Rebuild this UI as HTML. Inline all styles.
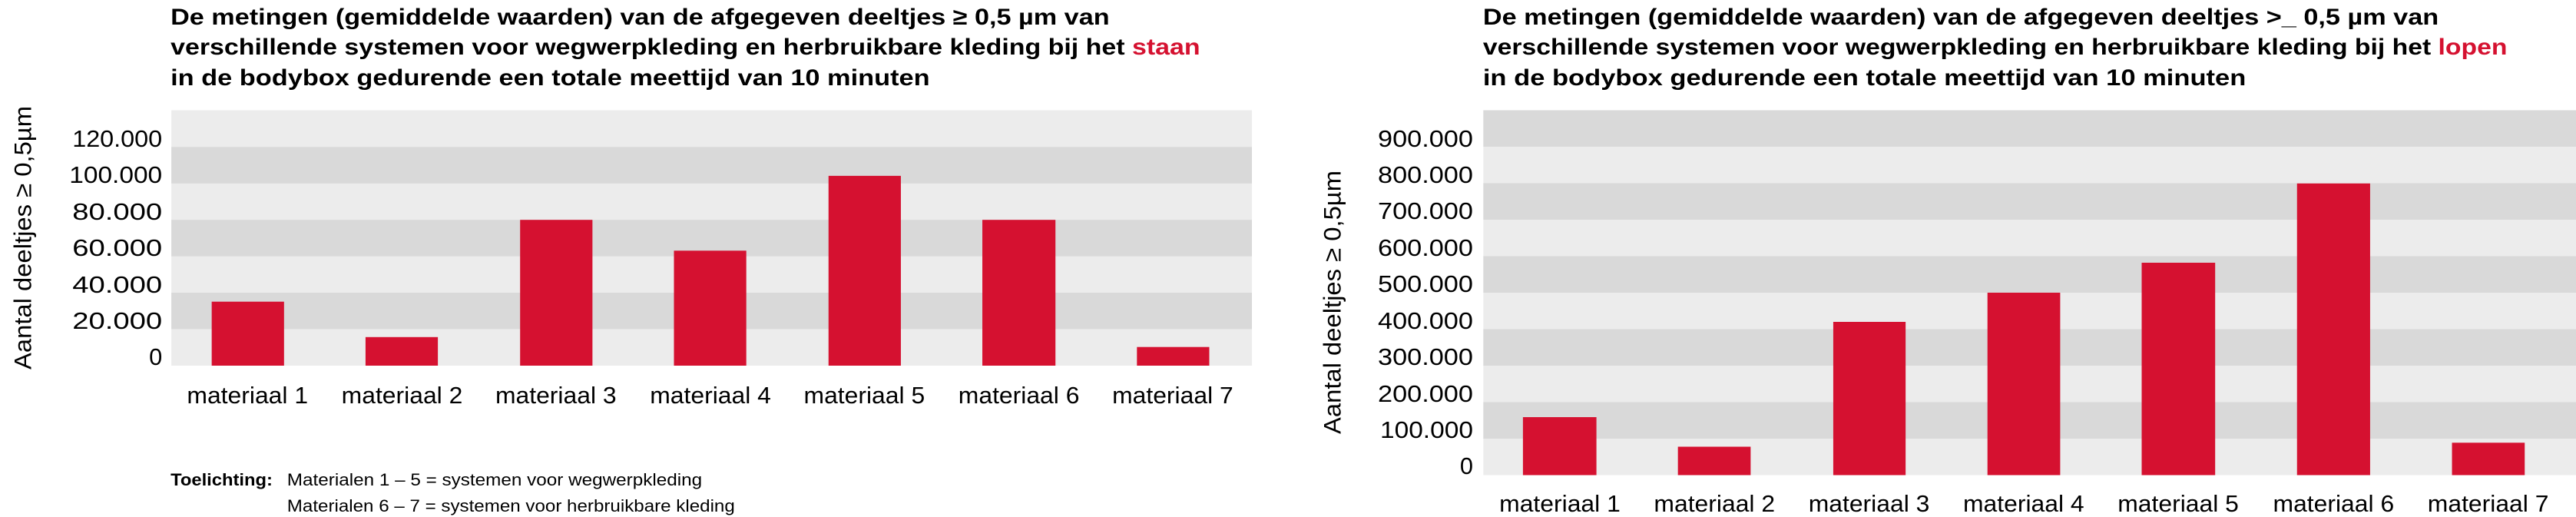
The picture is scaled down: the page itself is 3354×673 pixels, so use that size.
<!DOCTYPE html>
<html><head><meta charset="utf-8"><style>
html,body{margin:0;padding:0;background:#fff;}
svg{display:block;}
text{font-family:"Liberation Sans",sans-serif;fill:#000;}
.t{font-weight:bold;font-size:30px;}
.y{font-size:31px;}
.x{font-size:31px;}
.r{fill:#d51130;}
</style></head><body>
<svg width="3354" height="673" viewBox="0 0 3354 673" xmlns="http://www.w3.org/2000/svg">
<g transform="scale(0.9915,1)">
<!-- LEFT CHART -->
<text class="t" x="224" y="32" textLength="1233" lengthAdjust="spacingAndGlyphs">De metingen (gemiddelde waarden) van de afgegeven deeltjes ≥ 0,5 µm van</text>
<text class="t" x="224" y="71" textLength="1352" lengthAdjust="spacingAndGlyphs">verschillende systemen voor wegwerpkleding en herbruikbare kleding bij het <tspan class="r">staan</tspan></text>
<text class="t" x="224" y="111" textLength="997" lengthAdjust="spacingAndGlyphs">in de bodybox gedurende een totale meettijd van 10 minuten</text>
<rect x="225" y="143.5" width="1419" height="332.5" fill="#ececec"/>
<rect x="225" y="191.4" width="1419" height="47.4" fill="#d9d9d9"/>
<rect x="225" y="286.2" width="1419" height="47.4" fill="#d9d9d9"/>
<rect x="225" y="381" width="1419" height="47.4" fill="#d9d9d9"/>
<g class="r">
<rect x="278" y="392.7" width="95" height="83.3"/>
<rect x="480" y="438.8" width="95" height="37.2"/>
<rect x="683" y="286.2" width="95" height="189.8"/>
<rect x="885" y="326.3" width="95" height="149.7"/>
<rect x="1088" y="228.9" width="95" height="247.1"/>
<rect x="1290" y="286.2" width="96" height="189.8"/>
<rect x="1493" y="451.7" width="95" height="24.3"/>
</g>
<g class="y" text-anchor="end">
<text x="213" y="475">0</text>
<text x="213" y="428" textLength="118" lengthAdjust="spacingAndGlyphs">20.000</text>
<text x="213" y="381" textLength="118" lengthAdjust="spacingAndGlyphs">40.000</text>
<text x="213" y="333" textLength="118" lengthAdjust="spacingAndGlyphs">60.000</text>
<text x="213" y="286" textLength="118" lengthAdjust="spacingAndGlyphs">80.000</text>
<text x="213" y="238" textLength="122" lengthAdjust="spacingAndGlyphs">100.000</text>
<text x="213" y="191" textLength="118" lengthAdjust="spacingAndGlyphs">120.000</text>
</g>
<g class="x" text-anchor="middle">
<text x="325" y="525" textLength="159" lengthAdjust="spacingAndGlyphs">materiaal 1</text>
<text x="528" y="525" textLength="159" lengthAdjust="spacingAndGlyphs">materiaal 2</text>
<text x="730" y="525" textLength="159" lengthAdjust="spacingAndGlyphs">materiaal 3</text>
<text x="933" y="525" textLength="159" lengthAdjust="spacingAndGlyphs">materiaal 4</text>
<text x="1135" y="525" textLength="159" lengthAdjust="spacingAndGlyphs">materiaal 5</text>
<text x="1338" y="525" textLength="159" lengthAdjust="spacingAndGlyphs">materiaal 6</text>
<text x="1540" y="525" textLength="159" lengthAdjust="spacingAndGlyphs">materiaal 7</text>
</g>
<text transform="translate(41,481) rotate(-90)" font-size="32" textLength="343" lengthAdjust="spacingAndGlyphs">Aantal deeltjes ≥ 0,5µm</text>
<text x="224" y="632" font-size="22" font-weight="bold" textLength="134" lengthAdjust="spacingAndGlyphs">Toelichting:</text>
<text x="377" y="632" font-size="22" textLength="545" lengthAdjust="spacingAndGlyphs">Materialen 1 – 5 = systemen voor wegwerpkleding</text>
<text x="377" y="666" font-size="22" textLength="588" lengthAdjust="spacingAndGlyphs">Materialen 6 – 7 = systemen voor herbruikbare kleding</text>
</g>

<g transform="translate(1680,0) scale(0.9915,1) translate(-1680,0)">
<!-- RIGHT CHART -->
<text class="t" x="1933" y="32" textLength="1255" lengthAdjust="spacingAndGlyphs">De metingen (gemiddelde waarden) van de afgegeven deeltjes &gt;_ 0,5 µm van</text>
<text class="t" x="1933" y="71" textLength="1345" lengthAdjust="spacingAndGlyphs">verschillende systemen voor wegwerpkleding en herbruikbare kleding bij het <tspan class="r">lopen</tspan></text>
<text class="t" x="1933" y="111" textLength="1002" lengthAdjust="spacingAndGlyphs">in de bodybox gedurende een totale meettijd van 10 minuten</text>
<rect x="1933.5" y="143.5" width="1440" height="475" fill="#ececec"/>
<rect x="1933.5" y="143.5" width="1440" height="47.5" fill="#d9d9d9"/>
<rect x="1933.5" y="238.5" width="1440" height="47.5" fill="#d9d9d9"/>
<rect x="1933.5" y="333.5" width="1440" height="47.5" fill="#d9d9d9"/>
<rect x="1933.5" y="428.5" width="1440" height="47.5" fill="#d9d9d9"/>
<rect x="1933.5" y="523.5" width="1440" height="47.5" fill="#d9d9d9"/>
<g class="r">
<rect x="1985.5" y="543" width="96.5" height="75.5"/>
<rect x="2189" y="581.5" width="95.5" height="37"/>
<rect x="2393" y="419" width="95" height="199.5"/>
<rect x="2595.5" y="381" width="95.5" height="237.5"/>
<rect x="2798" y="342" width="96.5" height="276.5"/>
<rect x="3002" y="238.8" width="96" height="379.7"/>
<rect x="3205.5" y="576.3" width="95.5" height="42.2"/>
</g>
<g class="y" text-anchor="end">
<text x="1920" y="617">0</text>
<text x="1920" y="570" textLength="122" lengthAdjust="spacingAndGlyphs">100.000</text>
<text x="1920" y="523" textLength="125" lengthAdjust="spacingAndGlyphs">200.000</text>
<text x="1920" y="475" textLength="125" lengthAdjust="spacingAndGlyphs">300.000</text>
<text x="1920" y="428" textLength="125" lengthAdjust="spacingAndGlyphs">400.000</text>
<text x="1920" y="380" textLength="125" lengthAdjust="spacingAndGlyphs">500.000</text>
<text x="1920" y="333" textLength="125" lengthAdjust="spacingAndGlyphs">600.000</text>
<text x="1920" y="285" textLength="125" lengthAdjust="spacingAndGlyphs">700.000</text>
<text x="1920" y="238" textLength="125" lengthAdjust="spacingAndGlyphs">800.000</text>
<text x="1920" y="191" textLength="125" lengthAdjust="spacingAndGlyphs">900.000</text>
</g>
<g class="x" text-anchor="middle">
<text x="2034" y="666" textLength="159" lengthAdjust="spacingAndGlyphs">materiaal 1</text>
<text x="2237" y="666" textLength="159" lengthAdjust="spacingAndGlyphs">materiaal 2</text>
<text x="2440" y="666" textLength="159" lengthAdjust="spacingAndGlyphs">materiaal 3</text>
<text x="2643" y="666" textLength="159" lengthAdjust="spacingAndGlyphs">materiaal 4</text>
<text x="2846" y="666" textLength="159" lengthAdjust="spacingAndGlyphs">materiaal 5</text>
<text x="3050" y="666" textLength="159" lengthAdjust="spacingAndGlyphs">materiaal 6</text>
<text x="3253" y="666" textLength="159" lengthAdjust="spacingAndGlyphs">materiaal 7</text>
</g>
<text transform="translate(1746,565) rotate(-90)" font-size="32" textLength="343" lengthAdjust="spacingAndGlyphs">Aantal deeltjes ≥ 0,5µm</text>
</g>
</svg>
</body></html>
